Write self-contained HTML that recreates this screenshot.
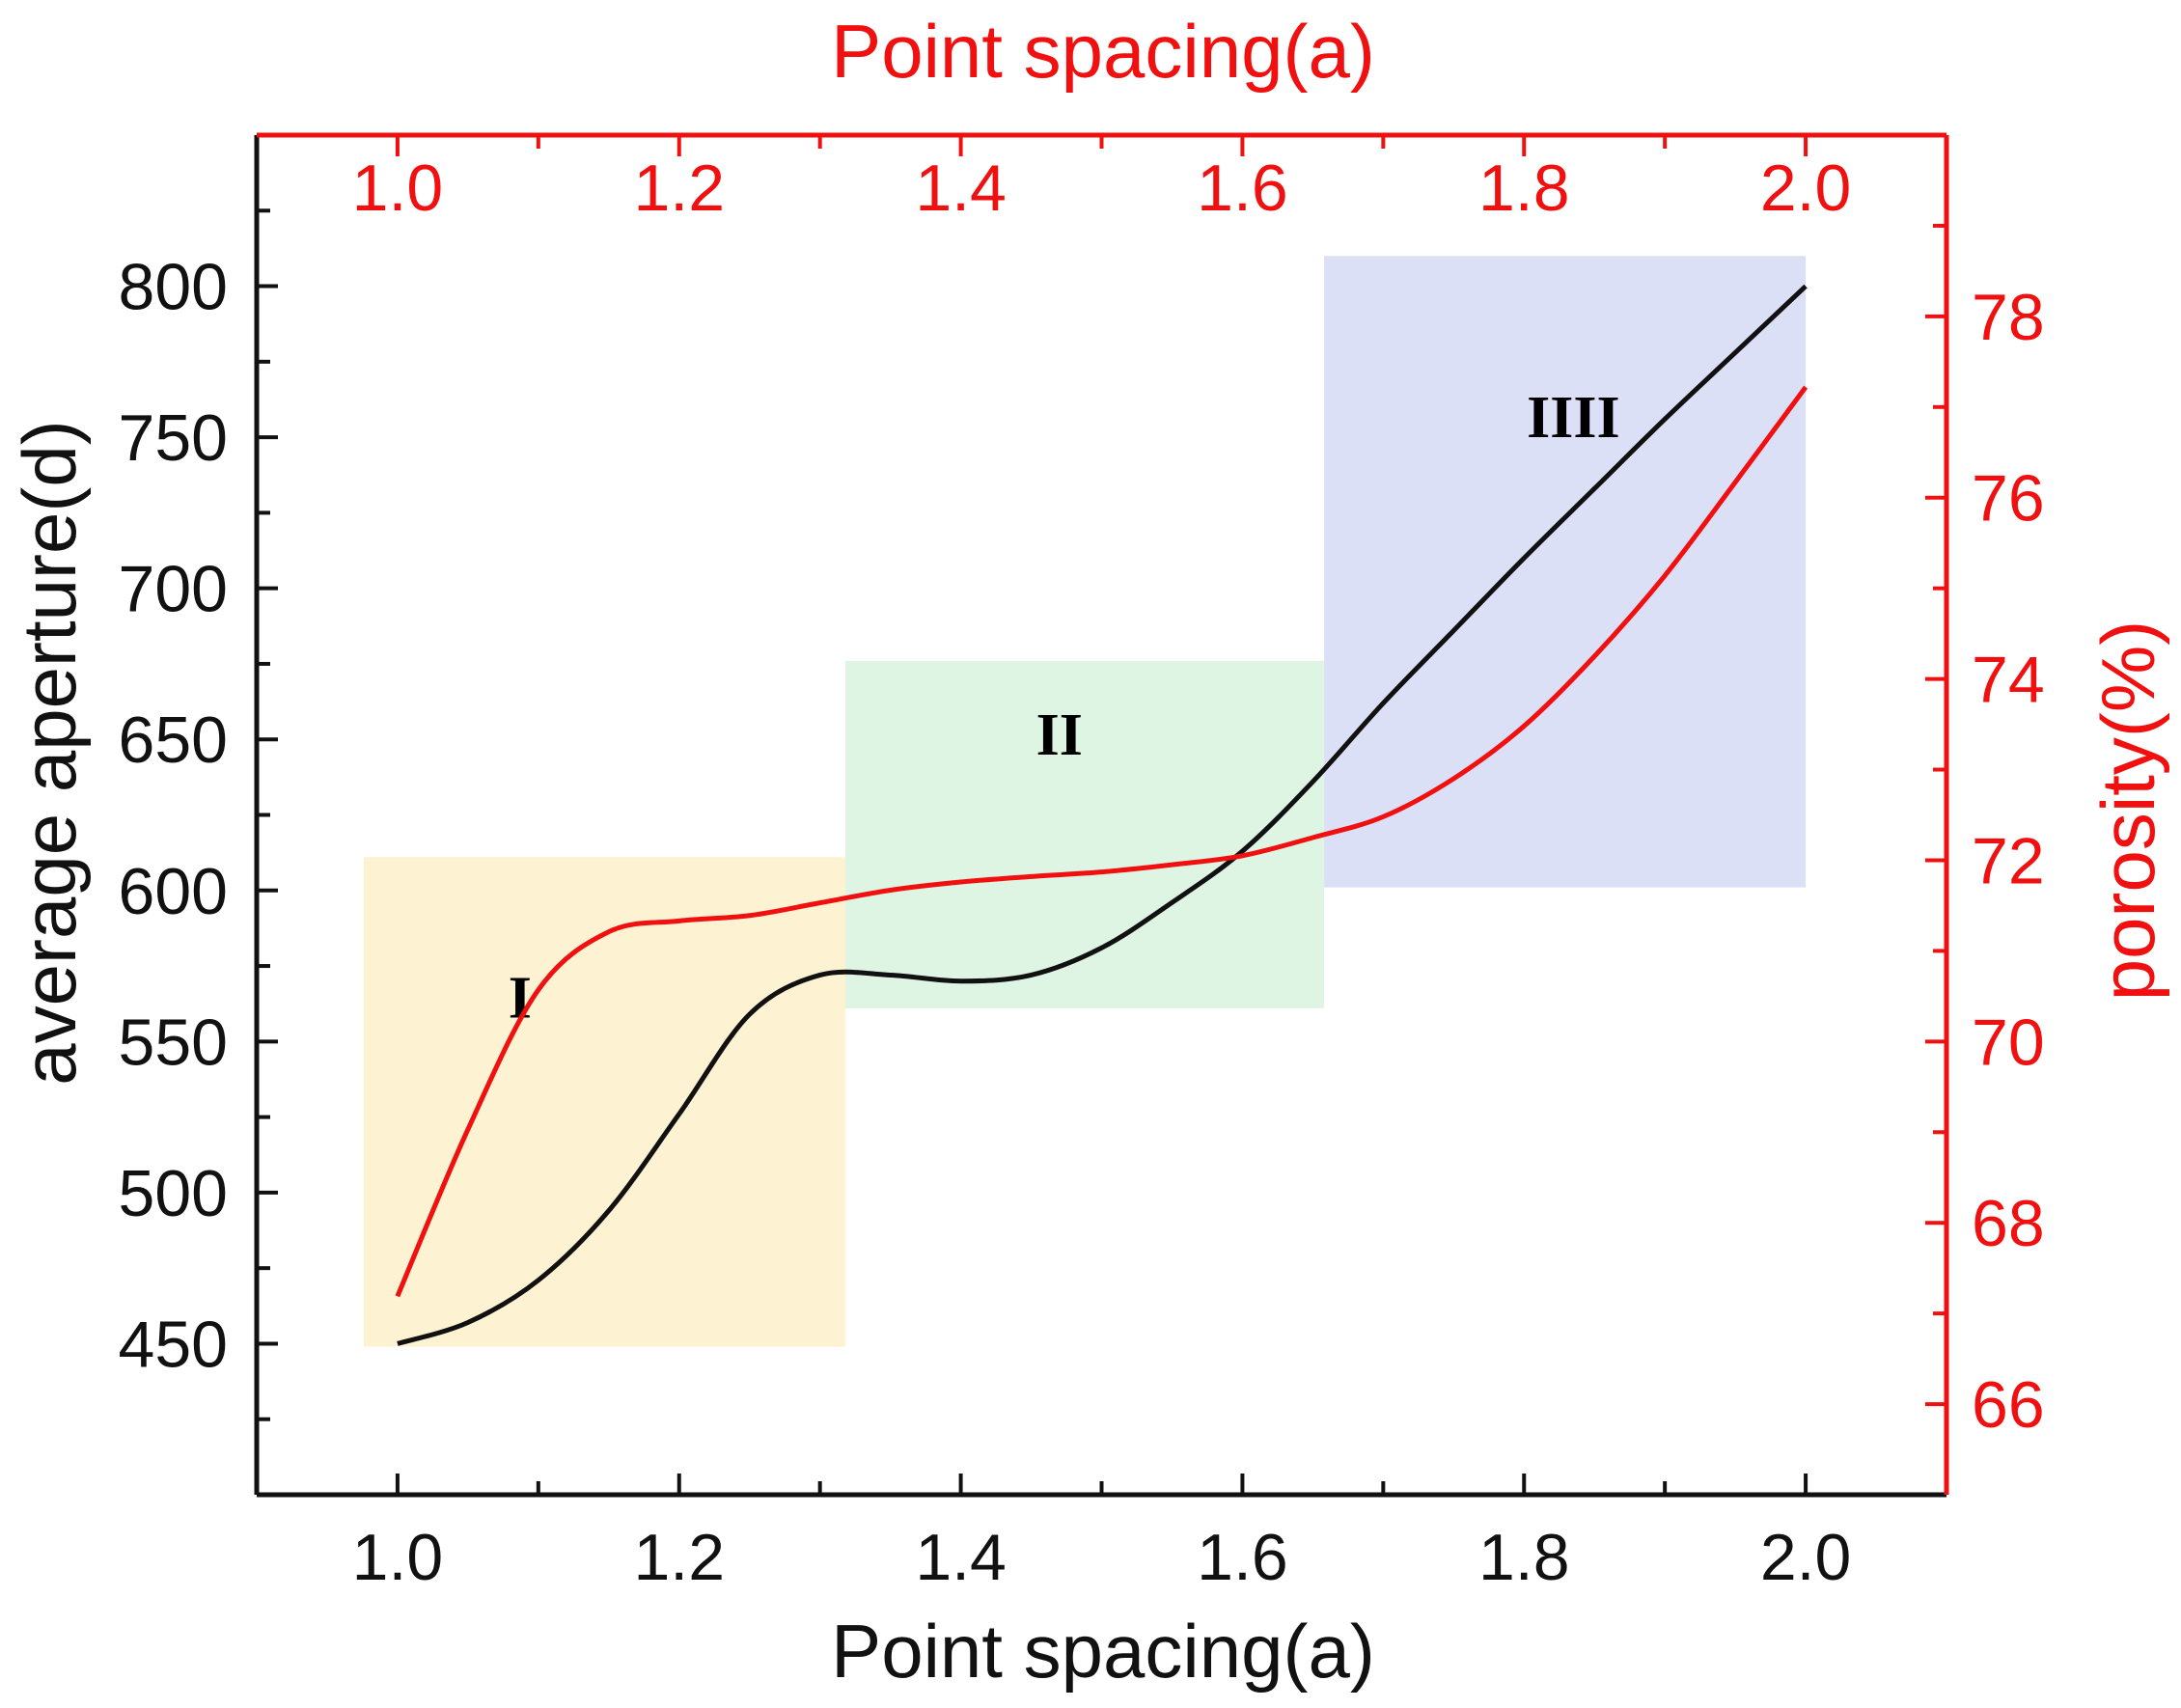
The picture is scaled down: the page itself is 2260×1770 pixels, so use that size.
<!DOCTYPE html>
<html><head><meta charset="utf-8"><style>
body{margin:0;background:#fff}
svg{display:block}
text{font-family:"Liberation Sans",sans-serif}
</style></head><body>
<svg id="chart" width="2260" height="1770" viewBox="0 0 2260 1770" xmlns="http://www.w3.org/2000/svg" style="position:absolute;left:0;top:0">
<g id="regions"></g>
<g id="series"></g>
<g id="axes"></g>
</svg>
<script>
const xs = [1.0,1.05,1.1,1.15,1.2,1.25,1.3,1.35,1.4,1.45,1.5,1.55,1.6,1.65,1.7,1.75,1.8,1.85,1.9,1.95,2.0];
const aperture = [450,457,471,494,526,559,572,572,570,572,581,596,613,636,662,686,710,733,756,778,800];
const porosity = [67.19,69.03,70.57,71.21,71.33,71.39,71.53,71.67,71.76,71.82,71.87,71.95,72.05,72.25,72.48,72.9,73.48,74.25,75.14,76.17,77.22];
const xTicks = [1.0,1.2,1.4,1.6,1.8,2.0];
const xTickLabels = ["1.0","1.2","1.4","1.6","1.8","2.0"];
const leftTicks = [450,500,550,600,650,700,750,800];
const rightTicks = [66,68,70,72,74,76,78];
const regionX0 = [0.976,1.318,1.658];
const regionX1 = [1.318,1.658,2.0];
const regionY0 = [449,561,601];
const regionY1 = [611,676,810];
const regionNames = ["I","II","IIII"];

const L=266,R=2017,T=140,B=1549;
const X=v=>L+(v-0.9)/1.2*(R-L);
const YL=v=>B-(v-400)/450*(B-T);
const YR=v=>B-(v-65)/15*(B-T);
const NS="http://www.w3.org/2000/svg";
function mk(tag,attrs,parent){const e=document.createElementNS(NS,tag);for(const k in attrs)e.setAttribute(k,attrs[k]);parent.appendChild(e);return e;}
const reg=document.getElementById('regions'),ser=document.getElementById('series'),ax=document.getElementById('axes');
const fills=["#fdf2d2","#dff5e3","#dce0f7"];
const labelPos=[[1.087,558],[1.47,645],[1.835,750]];
for(let i=0;i<3;i++){
  const r=mk('rect',{x:X(regionX0[i]),y:YL(regionY1[i]),width:X(regionX1[i])-X(regionX0[i]),height:YL(regionY0[i])-YL(regionY1[i]),fill:fills[i]},reg);
  
  
  const t=mk('text',{x:X(labelPos[i][0]),y:YL(labelPos[i][1]),'font-size':62,'font-weight':'bold','text-anchor':'middle',style:'font-family:"Liberation Serif",serif'},reg);
  t.textContent=regionNames[i];
  
  
}
function smooth(pts){let d=`M${pts[0][0]},${pts[0][1]}`;for(let i=0;i<pts.length-1;i++){const p0=pts[Math.max(0,i-1)],p1=pts[i],p2=pts[i+1],p3=pts[Math.min(pts.length-1,i+2)];d+=` C${p1[0]+(p2[0]-p0[0])/6},${p1[1]+(p2[1]-p0[1])/6} ${p2[0]-(p3[0]-p1[0])/6},${p2[1]-(p3[1]-p1[1])/6} ${p2[0]},${p2[1]}`;}return d;}
const bl=mk('path',{d:smooth(xs.map((x,i)=>[X(x),YL(aperture[i])])),fill:'none',stroke:'#111','stroke-width':5},ser);


const rl=mk('path',{d:smooth(xs.map((x,i)=>[X(x),YR(porosity[i])])),fill:'none',stroke:'#f01010','stroke-width':5},ser);


mk('line',{x1:L,y1:B,x2:R,y2:B,stroke:'#111','stroke-width':5},ax);
mk('line',{x1:L,y1:T,x2:L,y2:B,stroke:'#111','stroke-width':5},ax);
mk('line',{x1:L,y1:T,x2:R,y2:T,stroke:'#f01010','stroke-width':5},ax);
mk('line',{x1:R,y1:T,x2:R,y2:B,stroke:'#f01010','stroke-width':5},ax);
for(let k=10;k<=20;k++){const v=k/10;const x=X(v);const maj=k%2===0;const l=maj?22:14;
  mk('line',{x1:x,y1:B,x2:x,y2:B-l,stroke:'#111','stroke-width':4},ax);
  mk('line',{x1:x,y1:T,x2:x,y2:T+l,stroke:'#f01010','stroke-width':4},ax);}
xTicks.forEach((v,i)=>{
  const b=mk('text',{x:X(v),y:1637,'font-size':68,'text-anchor':'middle',fill:'#111'},ax);b.textContent=xTickLabels[i];
  
  
  const t=mk('text',{x:X(v),y:218,'font-size':68,'text-anchor':'middle',fill:'#f01010'},ax);t.textContent=xTickLabels[i];
  
  
});
for(let v=425;v<850;v+=25){const y=YL(v);const maj=v%50===0;mk('line',{x1:L,y1:y,x2:L+(maj?22:14),y2:y,stroke:'#111','stroke-width':4},ax);}
leftTicks.forEach(v=>{const t=mk('text',{x:236,y:YL(v)+24,'font-size':68,'text-anchor':'end',fill:'#111'},ax);t.textContent=v;
  
  });
for(let v=66;v<80;v+=1){const y=YR(v);const maj=v%2===0;mk('line',{x1:R,y1:y,x2:R-(maj?22:14),y2:y,stroke:'#f01010','stroke-width':4},ax);}
rightTicks.forEach(v=>{const t=mk('text',{x:2043,y:YR(v)+24,'font-size':68,'text-anchor':'start',fill:'#f01010'},ax);t.textContent=v;
  
  });
</script>
<svg style="position:absolute;left:0;top:0" width="2260" height="1770">
<text x="1143" y="1738" font-size="78" text-anchor="middle" fill="#111" style="font-family:'Liberation Sans',sans-serif">Point spacing(a)</text>
<text x="1143" y="80" font-size="78" text-anchor="middle" fill="#f01010" style="font-family:'Liberation Sans',sans-serif">Point spacing(a)</text>
<text transform="translate(78,780) rotate(-90)" font-size="78" text-anchor="middle" fill="#111" style="font-family:'Liberation Sans',sans-serif">average aperture(d)</text>
<text transform="translate(2232,840) rotate(-90)" font-size="78" text-anchor="middle" fill="#f01010" style="font-family:'Liberation Sans',sans-serif">porosity(%)</text>
</svg>
</body></html>
